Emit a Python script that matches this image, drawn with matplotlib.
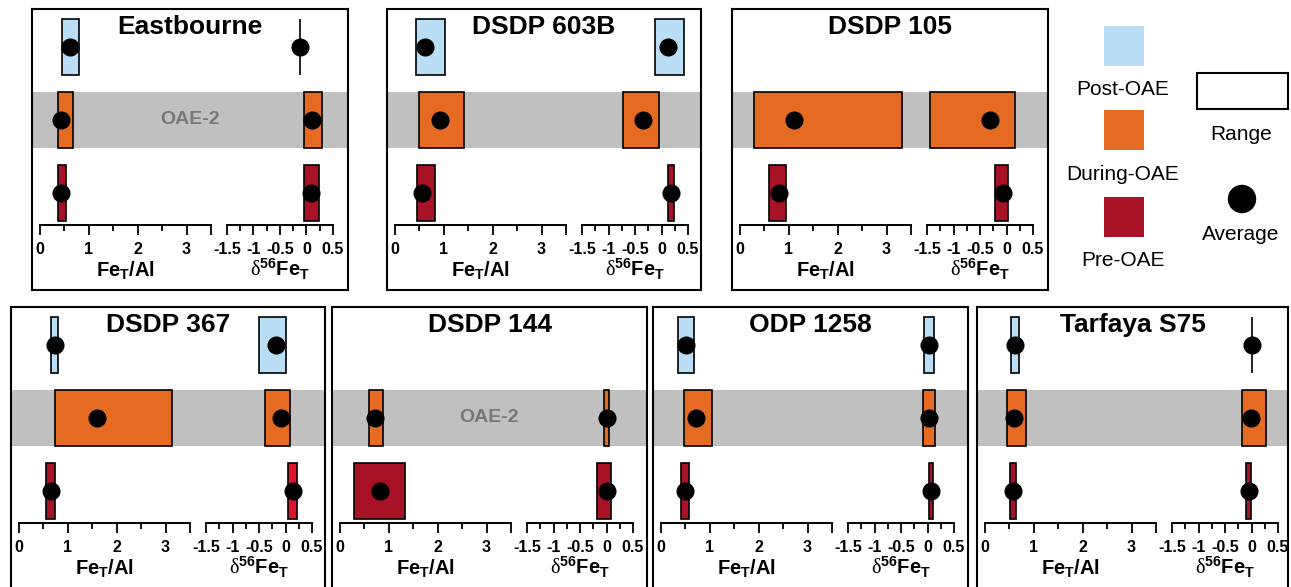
import matplotlib
matplotlib.use("Agg")
import matplotlib.pyplot as plt
import numpy as np
from matplotlib.patches import Rectangle, Circle

nan = np.nan

sites = ["Eastbourne", "DSDP 603B", "DSDP 105", "DSDP 367", "DSDP 144", "ODP 1258", "Tarfaya S75"]
intervals = ["Post-OAE", "During-OAE", "Pre-OAE"]

# one row per site, columns: post, during, pre
feal_lo = [
    [0.45, 0.36, 0.36],
    [0.43, 0.50, 0.46],
    [nan, 0.28, 0.59],
    [0.66, 0.74, 0.56],
    [nan, 0.59, 0.28],
    [0.34, 0.48, 0.41],
    [0.54, 0.45, 0.52],
]
feal_hi = [
    [0.79, 0.68, 0.53],
    [1.03, 1.41, 0.81],
    [nan, 3.32, 0.94],
    [0.79, 3.14, 0.74],
    [nan, 0.87, 1.34],
    [0.68, 1.05, 0.57],
    [0.69, 0.84, 0.63],
]
feal_avg = [
    [0.62, 0.43, 0.43],
    [0.61, 0.92, 0.55],
    [nan, 1.10, 0.79],
    [0.73, 1.59, 0.66],
    [nan, 0.72, 0.81],
    [0.52, 0.72, 0.50],
    [0.61, 0.59, 0.57],
]
d56_lo = [
    [-0.12, -0.04, -0.04],
    [-0.13, -0.72, 0.12],
    [nan, -1.45, -0.21],
    [-0.50, -0.39, 0.05],
    [nan, -0.04, -0.18],
    [-0.07, -0.08, 0.03],
    [0.00, -0.17, -0.11],
]
d56_hi = [
    [-0.12, 0.29, 0.23],
    [0.42, -0.04, 0.23],
    [nan, 0.16, 0.02],
    [0.00, 0.08, 0.21],
    [nan, 0.05, 0.09],
    [0.13, 0.14, 0.10],
    [0.00, 0.27, -0.01],
]
d56_avg = [
    [-0.12, 0.11, 0.08],
    [0.13, -0.34, 0.17],
    [nan, -0.31, -0.06],
    [-0.17, -0.09, 0.14],
    [nan, 0.00, 0.00],
    [0.03, 0.03, 0.07],
    [0.00, -0.01, -0.05],
]
oae_label_sites = ["Eastbourne", "DSDP 144"]

feal_major = [0, 1, 2, 3, 3.5]
feal_labels = ["0", "1", "2", "3", ""]
feal_minor = [0.5, 1.5, 2.5]
d56_major = [-1.5, -1, -0.5, 0, 0.5]
d56_labels = ["-1.5", "-1", "-0.5", "0", "0.5"]
d56_minor = [-1.25, -0.75, -0.25, 0.25]

# ---- style / layout ----
interval_colors = ["#B9DEF5", "#E66B22", "#A81226"]
bright_red = "#E4132C"
band_color = "#C0C0C0"

plt.rcParams["font.family"] = ["Liberation Sans", "DejaVu Sans"]
plt.rcParams["mathtext.fontset"] = "custom"
plt.rcParams["mathtext.rm"] = "Liberation Serif"
plt.rcParams["mathtext.bf"] = "Liberation Sans:bold"
plt.rcParams["mathtext.it"] = "Liberation Sans:italic"

W, H = 1291, 587
AXIS_Y = 216          # axis line below panel top, px
POST_Y = 38           # post row centre below panel top, px
ROW_PX = 73           # px between rows
BOX_H = 56 / ROW_PX
FEAL_X = (8, 179)
D56_X = (195, 301)

# (left, top, width, height) in px
panel_px = [(32, 9, 316, 281), (387, 9, 314, 281), (732, 9, 316, 281),
            (11, 307, 314, 290), (332, 307, 315, 290), (653, 307, 315, 290),
            (977, 307, 311, 290)]

y_top = 2 + POST_Y / ROW_PX
y_bot = y_top - AXIS_Y / ROW_PX


def px_rect(left, top, width, height):
    return [left / W, 1 - (top + height) / H, width / W, height / H]


def draw_scale(ax, lo, hi, avg, colors, xlim, major, labels, minor):
    rows = [2, 1, 0]
    for r, l, h, a, c in zip(rows, lo, hi, avg, colors):
        if np.isnan(a):
            continue
        ax.barh(r, h - l, left=l, height=BOX_H, color=c,
                edgecolor="black", linewidth=1.2, zorder=2)
        ax.plot(a, r, "o", color="black", markersize=12, zorder=3, clip_on=False)
    ax.set_xlim(*xlim)
    ax.set_ylim(y_bot, y_top)
    ax.set_facecolor("none")
    for side in ["top", "left", "right"]:
        ax.spines[side].set_visible(False)
    ax.spines["bottom"].set_linewidth(1.4)
    ax.set_yticks([])
    ax.set_xticks(major, labels=labels, fontweight="bold", fontsize=11.5)
    ax.set_xticks(minor, minor=True)
    ax.tick_params(axis="x", which="major", length=7, width=1.3, pad=5)
    ax.tick_params(axis="x", which="minor", length=4.5, width=1.3)


fig = plt.figure(figsize=(W / 100, H / 100), dpi=100)

for i, site in enumerate(sites):
    pl, pt, pw, ph = panel_px[i]
    frame = fig.add_axes(px_rect(pl, pt, pw, ph))
    frame.set_xlim(0, 1)
    frame.set_ylim(y_top - ph / ROW_PX, y_top)
    frame.set_xticks([])
    frame.set_yticks([])
    for sp in frame.spines.values():
        sp.set_linewidth(1.5)
    frame.axhspan(1 - BOX_H / 2, 1 + BOX_H / 2, color=band_color, lw=0, zorder=0)
    frame.text(0.5, 1 - 25 / ph, site, transform=frame.transAxes,
               ha="center", va="baseline", fontsize=19, fontweight="bold")
    if site in oae_label_sites:
        frame.text(0.5, 1, "OAE-2", ha="center", va="center", fontsize=14,
                   fontweight="bold", color="#787878", zorder=1)

    ax1 = fig.add_axes(px_rect(pl + FEAL_X[0], pt, FEAL_X[1] - FEAL_X[0], AXIS_Y))
    draw_scale(ax1, feal_lo[i], feal_hi[i], feal_avg[i], interval_colors, (0, 3.5),
               feal_major, feal_labels, feal_minor)

    d_colors = list(interval_colors)
    if site == "DSDP 367":
        d_colors[2] = bright_red
    ax2 = fig.add_axes(px_rect(pl + D56_X[0], pt, D56_X[1] - D56_X[0], AXIS_Y))
    draw_scale(ax2, d56_lo[i], d56_hi[i], d56_avg[i], d_colors, (-1.5, 0.5),
               d56_major, d56_labels, d56_minor)

    label_y = -(268 - AXIS_Y) / AXIS_Y
    ax1.text(0.5, label_y, r"$\mathbf{Fe}_{\mathbf{T}}\mathbf{/Al}$",
             transform=ax1.transAxes, ha="center", va="baseline", fontsize=14.5)
    ax2.text(0.5, label_y, r"$\mathrm{\delta}^{\mathbf{56}}\mathbf{Fe}_{\mathbf{T}}$",
             transform=ax2.transAxes, ha="center", va="baseline", fontsize=14.5)

# legend drawn in pixel space
lax = fig.add_axes([0, 0, 1, 1])
lax.set_xlim(0, W)
lax.set_ylim(H, 0)
lax.axis("off")
sq_tops = [26, 110, 197]
txt_base = [95, 180, 266]
for name, c, top, base in zip(intervals, interval_colors, sq_tops, txt_base):
    lax.add_patch(Rectangle((1104, top), 40, 40, facecolor=c, edgecolor="none"))
    lax.text(1123, base, name, ha="center", va="baseline", fontsize=15)
lax.add_patch(Rectangle((1197, 73), 91, 36, facecolor="white",
                        edgecolor="black", linewidth=1.5))
lax.text(1241, 140, "Range", ha="center", va="baseline", fontsize=15)
lax.add_patch(Circle((1242, 199), 13.5, color="black"))
lax.text(1241, 240, "Average", ha="center", va="baseline", fontsize=15)

fig.savefig("out.png", dpi=100)
